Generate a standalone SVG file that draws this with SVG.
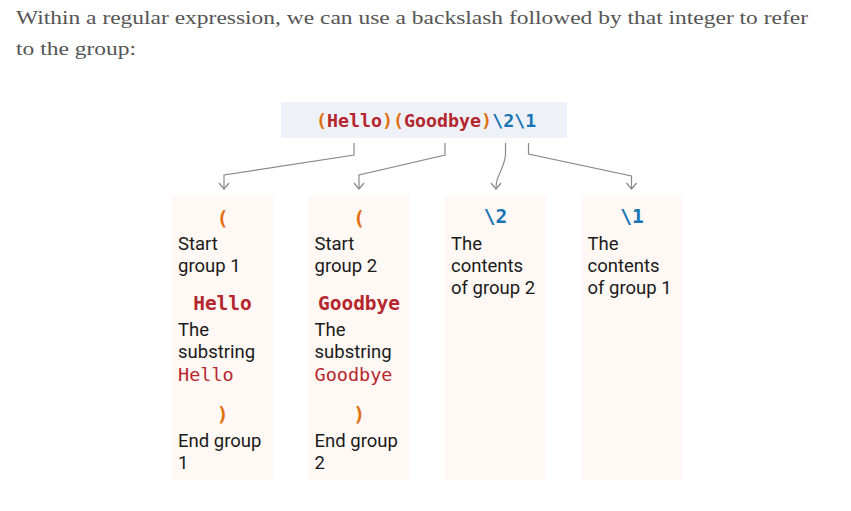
<svg xmlns="http://www.w3.org/2000/svg" width="851" height="511" viewBox="0 0 851 511">
<style>
.intro{font-family:"Liberation Serif","DejaVu Serif",serif;font-size:19.5px;fill:#555555}
.card{fill:#fff8f4}
.lbl{font-family:Roboto,"Liberation Sans",sans-serif;font-size:18.5px;fill:#1a1a1a}
.code{font-family:"DejaVu Sans Mono","Liberation Mono",monospace;font-weight:bold}
.head{font-family:"DejaVu Sans Mono","Liberation Mono",monospace;font-weight:bold;font-size:19.5px;text-anchor:middle}
.inl{font-family:"DejaVu Sans Mono","Liberation Mono",monospace;font-size:18.5px;fill:#b5262e}
.or{fill:#e0700f}
.rd{fill:#b5262e}
.bl{fill:#1874b4}
.conn{fill:none;stroke:#8a8a8a;stroke-width:1.2}
</style>
<defs>
<marker id="chev" viewBox="0 0 8 12" refX="7" refY="6" markerWidth="8" markerHeight="12" markerUnits="userSpaceOnUse" orient="auto">
<path d="M1,1 L7,6 L1,11" fill="none" stroke="#8a8a8a" stroke-width="1.3"/>
</marker>
</defs>
<rect width="851" height="511" fill="#ffffff"/>
<text class="intro" x="16" y="24" textLength="792" lengthAdjust="spacingAndGlyphs">Within a regular expression, we can use a backslash followed by that integer to refer</text>
<text class="intro" x="16" y="55" textLength="120" lengthAdjust="spacingAndGlyphs">to the group:</text>

<g id="regex">
<rect x="281" y="102" width="286" height="36" fill="#eef2f8"/>
<text class="code" x="316" y="127" font-size="18.3"><tspan class="or">(</tspan><tspan class="rd">Hello</tspan><tspan class="or">)(</tspan><tspan class="rd">Goodbye</tspan><tspan class="or">)</tspan><tspan class="bl">\2\1</tspan></text>
</g>

<g id="connectors">
<path class="conn" d="M354,143 V155 L224,175 V189" marker-end="url(#chev)"/>
<path class="conn" d="M445,143 V155 L359,175 V189" marker-end="url(#chev)"/>
<path class="conn" d="M505.5,143 V155 Q505,162 499,175 Q496,181 496,189" marker-end="url(#chev)"/>
<path class="conn" d="M528.5,143 V154 L631.5,176 V189" marker-end="url(#chev)"/>
</g>

<g id="card1">
<rect class="card" x="172" y="195" width="101" height="285"/>
<text class="head or" x="222.5" y="225">(</text>
<text class="lbl" x="178" y="250">Start</text>
<text class="lbl" x="178" y="272">group 1</text>
<text class="head rd" x="222.5" y="310">Hello</text>
<text class="lbl" x="178" y="336">The</text>
<text class="lbl" x="178" y="358">substring</text>
<text class="inl" x="178" y="381">Hello</text>
<text class="head or" x="222.5" y="421">)</text>
<text class="lbl" x="178" y="447">End group</text>
<text class="lbl" x="178" y="469">1</text>
</g>

<g id="card2">
<rect class="card" x="308.5" y="195" width="101" height="285"/>
<text class="head or" x="359" y="225">(</text>
<text class="lbl" x="314.5" y="250">Start</text>
<text class="lbl" x="314.5" y="272">group 2</text>
<text class="head rd" x="359" y="310">Goodbye</text>
<text class="lbl" x="314.5" y="336">The</text>
<text class="lbl" x="314.5" y="358">substring</text>
<text class="inl" x="314.5" y="381">Goodbye</text>
<text class="head or" x="359" y="421">)</text>
<text class="lbl" x="314.5" y="447">End group</text>
<text class="lbl" x="314.5" y="469">2</text>
</g>

<g id="card3">
<rect class="card" x="445" y="195" width="101" height="285"/>
<text class="head bl" x="495.5" y="223">\2</text>
<text class="lbl" x="451" y="250">The</text>
<text class="lbl" x="451" y="272">contents</text>
<text class="lbl" x="451" y="294">of group 2</text>
</g>

<g id="card4">
<rect class="card" x="581.5" y="195" width="101" height="285"/>
<text class="head bl" x="632" y="223">\1</text>
<text class="lbl" x="587.5" y="250">The</text>
<text class="lbl" x="587.5" y="272">contents</text>
<text class="lbl" x="587.5" y="294">of group 1</text>
</g>
</svg>
